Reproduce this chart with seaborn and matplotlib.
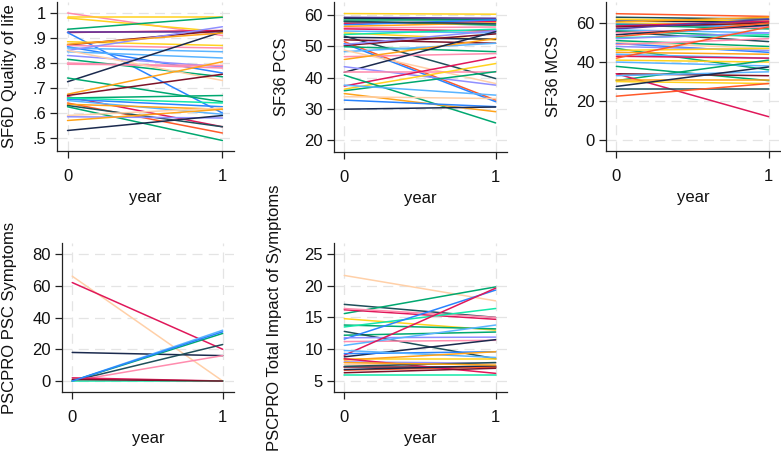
import numpy as np
import pandas as pd
import matplotlib
matplotlib.use("Agg")
import matplotlib.pyplot as plt
import seaborn as sns

# ---------------- data ----------------
years = [0, 1]

sf6d_y0 = [1.00, .985, .98, .935, .922, .922, .922, .885, .872, .87, .865, .86, .85, .845, .83, .815, .80, .795, .85, .725,
           .74, .675, .67, .665, .66, .655, .65, .64, .635, .63, .625, .59, .585, .57, .53, .66, .875]
sf6d_y1 = [.91, .985, .925, .983, .93, .922, .60, .87, .93, .86, .76, .845, .945, .82, .785, .745, .78, .79, .73, .925,
           .645, .805, .755, .545, .67, .625, .595, .52, .615, .545, .49, .62, .58, .615, .59, .64, .92]
sf6d_c = ["pink", "gold", "gold", "green", "crimson", "purple", "blue", "gold", "darkred", "pink", "blue", "lightblue",
          "periwinkle", "lightblue", "periwinkle", "green", "pink", "pink", "peach", "navy",
          "green", "orange", "darkred", "crimson", "green", "blue", "lightblue", "orangered", "orange", "darkteal",
          "green", "peach", "periwinkle", "orange", "navy", "aqua", "orange"]

pcs_y0 = [60.5, 59.3, 59.0, 58.6, 57.9, 57.4, 56.9, 56.4, 55.9, 55.6, 54.9, 54.3, 53.3, 52.9, 52.1, 51.5, 50.9, 50.3,
          50.6, 49.9, 48.3, 46.7, 48.8, 45.8, 41.7, 43.5, 41.9, 37.3, 36.3, 35.8, 40.8, 37.6, 34.9, 33.9, 32.8, 29.9,
          53.8, 58.0]
pcs_y1 = [60.3, 59.0, 58.5, 58.6, 56.8, 57.9, 58.5, 57.5, 56.2, 54.9, 54.3, 52.1, 39.7, 52.3, 51.0, 32.8, 32.3, 54.0,
          55.0, 48.3, 51.0, 47.7, 38.1, 52.5, 54.7, 37.6, 41.9, 46.5, 44.5, 41.9, 25.5, 34.4, 29.1, 33.3, 30.7, 30.6,
          55.5, 57.2]
pcs_c = ["gold", "purple", "navy", "green", "green", "crimson", "blue", "orange", "pink", "crimson", "lightblue",
         "gold", "darkteal", "navy", "darkred", "orangered", "blue", "darkred", "periwinkle", "green", "lightblue",
         "pink", "peach", "orange", "navy", "periwinkle", "pink", "crimson", "gold", "green", "green", "lightblue",
         "orange", "peach", "blue", "navy", "aqua", "darkteal"]

mcs_y0 = [64.8, 63.0, 62.0, 61.0, 60.5, 60.0, 59.5, 59.0, 58.5, 58.0, 57.0, 56.5, 56.0, 55.5, 55.0, 54.0, 53.0, 52.5,
          52.0, 51.0, 50.0, 49.5, 49.0, 48.0, 47.0, 46.0, 45.0, 44.0, 43.0, 42.0, 41.0, 40.0, 37.8, 30.5, 34.0, 34.0,
          33.0, 31.0, 30.0, 27.5, 26.0, 22.5]
mcs_y1 = [63.4, 62.0, 61.0, 60.5, 63.0, 59.0, 58.0, 57.0, 61.0, 60.0, 62.0, 55.0, 53.0, 50.5, 58.0, 59.0, 60.0, 54.0,
          55.0, 48.0, 47.0, 45.0, 52.0, 46.0, 36.0, 47.0, 44.0, 42.0, 42.0, 58.0, 40.0, 38.0, 30.5, 41.0, 33.0, 12.0,
          35.0, 31.0, 29.0, 37.5, 26.0, 29.0]
mcs_c = ["orangered", "darkteal", "gold", "navy", "orange", "gold", "blue", "green", "crimson", "darkred", "purple",
         "lightblue", "green", "darkteal", "pink", "navy", "orangered", "aqua", "periwinkle", "green", "peach", "blue",
         "pink", "periwinkle", "green", "gold", "orange", "lightblue", "crimson", "orangered", "gold", "lightblue",
         "green", "green", "darkred", "crimson", "lightblue", "orange", "gold", "navy", "darkteal", "orangered"]

psc_y0 = [66, 62, 18, 0, 0, 0, 0, 2, 0, 1, 0]
psc_y1 = [0, 20, 16, 32, 30, 23, 16, 0, 0, 0, 31]
psc_c = ["peach", "crimson", "navy", "lightblue", "green", "darkteal", "pink", "crimson", "aqua", "darkred", "blue"]

imp_y0 = [21.6, 17.05, 15.6, 16.2, 16.4, 14.8, 13.8, 13.5, 12.2, 12.8, 11.6, 11.8, 11.2, 10.6, 9.05, 8.8, 9.3, 9.8,
          8.5, 8.3, 8.0, 7.2, 7.6, 6.7, 8.5, 6.3, 6.0, 6.8, 7.3, 7.9]
imp_y1 = [17.6, 15.0, 19.8, 14.7, 15.0, 13.0, 13.2, 16.4, 12.7, 8.5, 19.3, 11.9, 11.4, 13.8, 19.6, 11.5, 9.6, 8.7,
          8.5, 9.6, 7.8, 7.2, 7.8, 7.2, 6.2, 7.0, 6.0, 7.4, 7.9, 7.5]
imp_c = ["peach", "darkteal", "green", "crimson", "pink", "gold", "green", "aqua", "green", "darkteal", "blue",
         "periwinkle", "pink", "lightblue", "crimson", "navy", "blue", "lightblue", "gold", "orange", "periwinkle",
         "darkred", "peach", "orangered", "crimson", "darkred", "aqua", "navy", "darkteal", "orange"]

palette = {
    "navy": "#1b2a4e", "darkred": "#7d1228", "orange": "#ffa31a", "gold": "#ffd21f", "green": "#00a870",
    "blue": "#2a84ff", "pink": "#ff8cae", "lightblue": "#5ab4ff", "crimson": "#e0185a", "peach": "#ffd0a8",
    "periwinkle": "#8f8fff", "darkteal": "#1f4f5a", "purple": "#5a3aa0", "aqua": "#14e8a8", "orangered": "#ff5a2a",
}

panels = [
    dict(y0=sf6d_y0, y1=sf6d_y1, c=sf6d_c, ylabel="SF6D Quality of life",
         ticks=[.5, .6, .7, .8, .9, 1], labels=[".5", ".6", ".7", ".8", ".9", "1"],
         ylim=(0.448, 1.044), box=(57, 234, 2, 151), lp=11),
    dict(y0=pcs_y0, y1=pcs_y1, c=pcs_c, ylabel="SF36 PCS",
         ticks=[20, 30, 40, 50, 60], labels=["20", "30", "40", "50", "60"],
         ylim=(16.2, 64.2), box=(334, 507, 2, 152), lp=11),
    dict(y0=mcs_y0, y1=mcs_y1, c=mcs_c, ylabel="SF36 MCS",
         ticks=[0, 20, 40, 60], labels=["0", "20", "40", "60"],
         ylim=(-5.6, 70.8), box=(606, 780, 2, 151), lp=11),
    dict(y0=psc_y0, y1=psc_y1, c=psc_c, ylabel="PSCPRO PSC Symptoms",
         ticks=[0, 20, 40, 60, 80], labels=["0", "20", "40", "60", "80"],
         ylim=(-6.9, 86.9), box=(62, 234, 243, 392), lp=11),
    dict(y0=imp_y0, y1=imp_y1, c=imp_c, ylabel="PSCPRO Total Impact of Symptoms",
         ticks=[5, 10, 15, 20, 25], labels=["5", "10", "15", "20", "25"],
         ylim=(3.27, 26.7), box=(334, 507, 243, 392), lp=16),
]

sns.set_theme(style="white")
plt.rcParams["font.family"] = ["Liberation Sans", "DejaVu Sans"]

W, H = 781, 458
FS = 12
fig = plt.figure(figsize=(W / 100, H / 100), dpi=100)

for p in panels:
    l, r, t, b = p["box"]
    ax = fig.add_axes([l / W, 1 - b / H, (r - l) / W, (b - t) / H])
    n = len(p["y0"])
    df = pd.DataFrame({
        "id": np.repeat(np.arange(n), 2),
        "year": np.tile(years, n),
        "value": np.ravel(np.column_stack([p["y0"], p["y1"]])),
    })
    pal = [palette[c] for c in p["c"]]
    for yt in p["ticks"]:
        ax.axhline(yt, color="#e4e4e4", lw=0.9, dashes=(8, 5), zorder=0)
    for xt in years:
        ax.axvline(xt, color="#e4e4e4", lw=0.9, dashes=(8, 5), zorder=0)
    sns.lineplot(data=df, x="year", y="value", hue="id", palette=pal, units="id",
                 estimator=None, legend=False, lw=1.1, ax=ax, zorder=2)
    ax.set_xlim(-0.068, 1.075)
    ax.set_ylim(*p["ylim"])
    ax.set_xticks(years)
    ax.set_xticklabels(["0", "1"])
    ax.set_yticks(p["ticks"])
    ax.set_yticklabels(p["labels"])
    ax.set_xlabel("year", fontsize=FS, labelpad=4, color="#111111")
    ax.set_ylabel(p["ylabel"], fontsize=FS, labelpad=p["lp"], color="#111111")
    for s in ["top", "right"]:
        ax.spines[s].set_visible(False)
    for s in ["left", "bottom"]:
        ax.spines[s].set_color("#222222")
        ax.spines[s].set_linewidth(0.9)
    ax.tick_params(axis="y", direction="out", length=5, width=0.9, color="#222222",
                   labelsize=FS, labelcolor="#111111", pad=3, left=True)
    ax.tick_params(axis="x", direction="out", length=5, width=0.9, color="#222222",
                   labelsize=FS, labelcolor="#111111", pad=8, bottom=True)
    ax.set_facecolor("white")

fig.savefig("out.png", dpi=100, facecolor="white")
